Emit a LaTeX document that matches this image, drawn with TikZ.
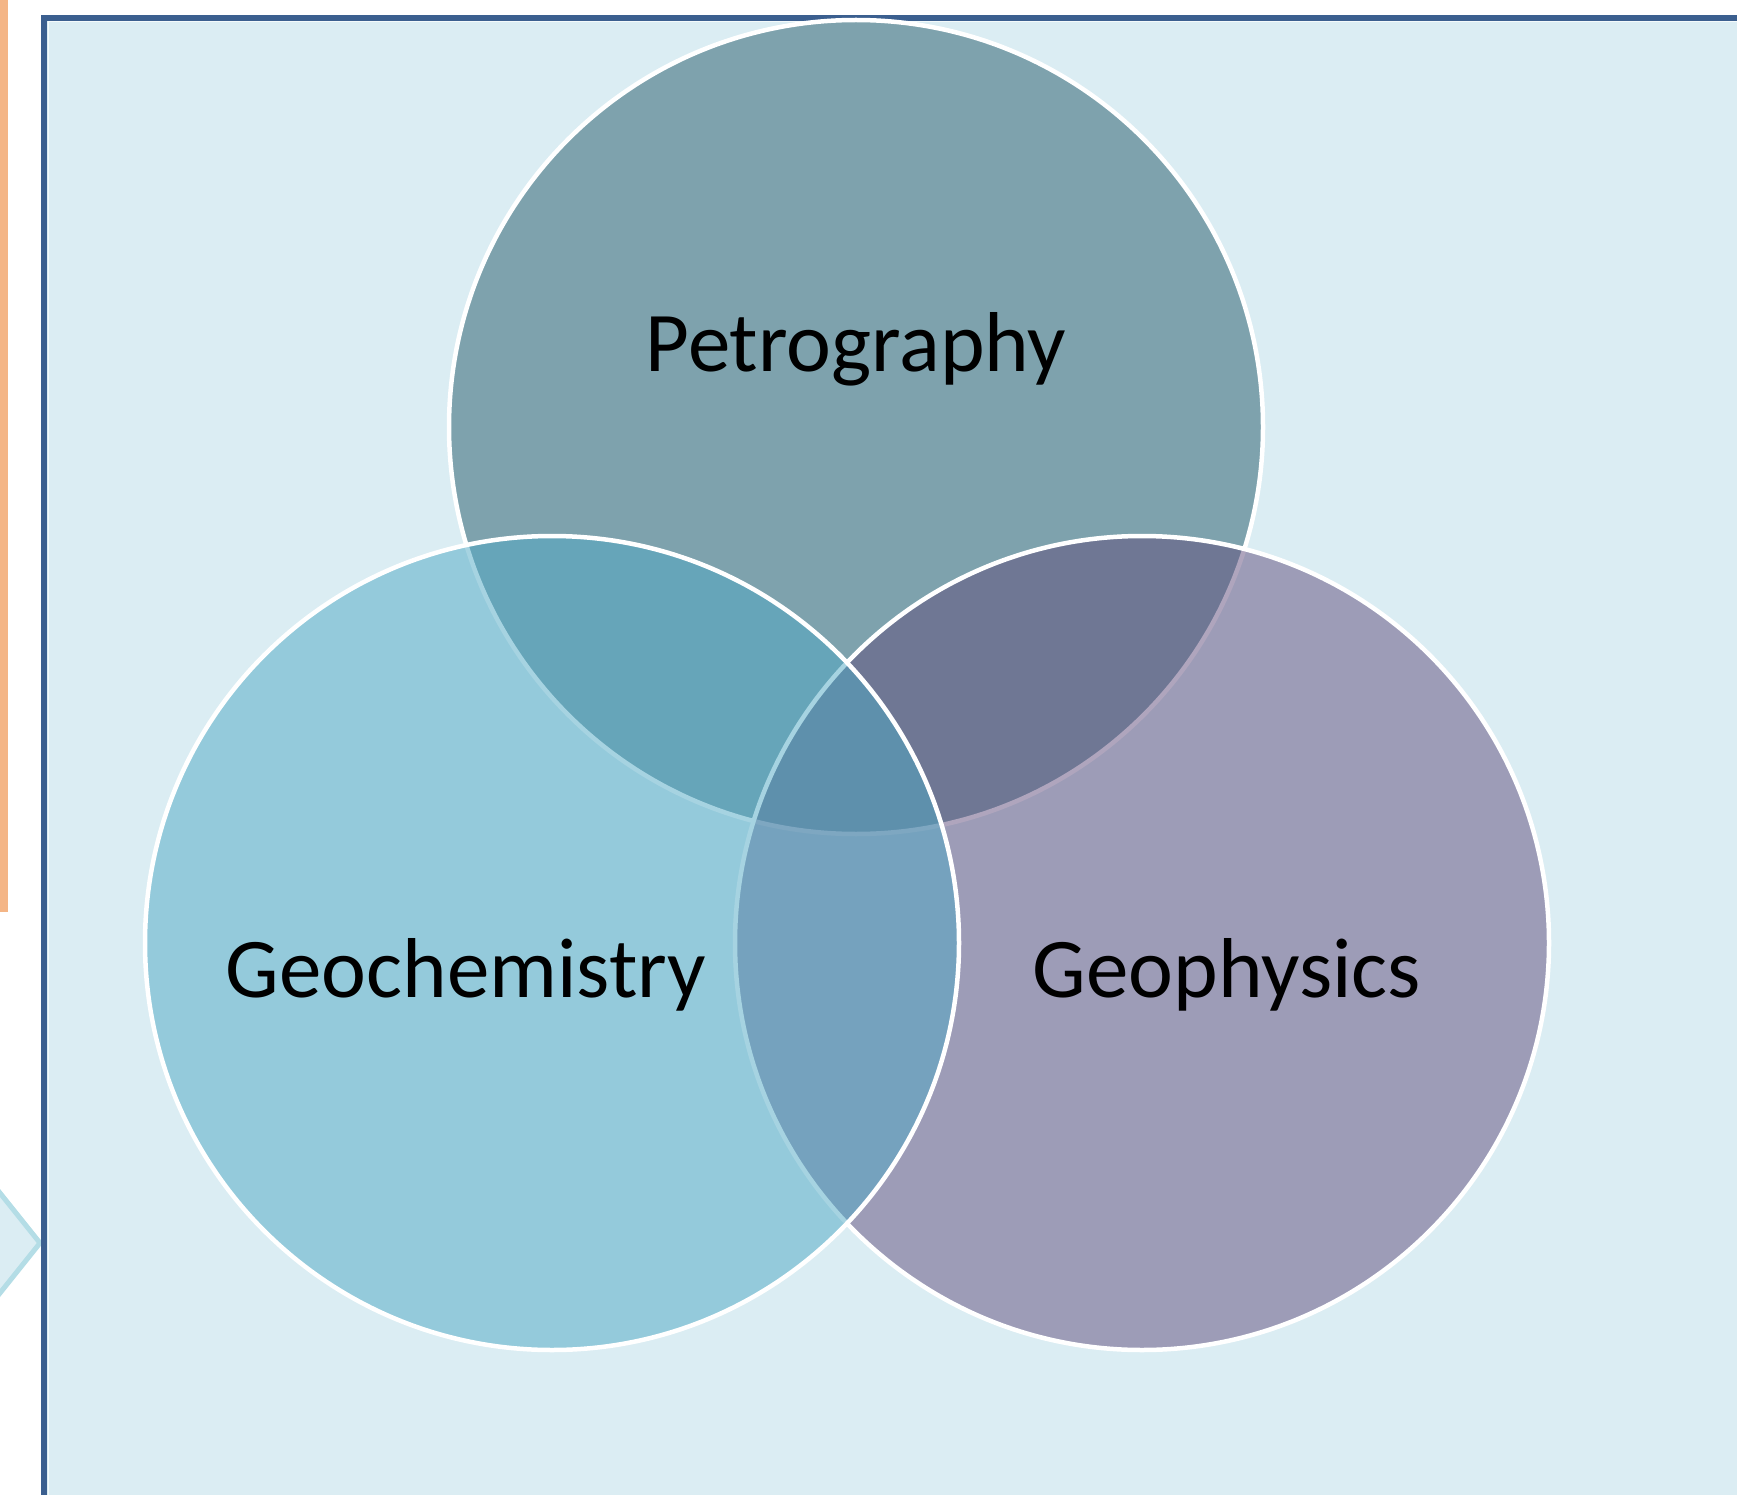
\documentclass[tikz,border=0pt]{standalone}
\usepackage{fontspec}
\setmainfont{Carlito}
\usetikzlibrary{shapes,positioning}

\definecolor{framefill}{RGB}{219,237,243}
\definecolor{frameline}{RGB}{59,95,143}
\definecolor{petrofill}{RGB}{35,89,105}
\definecolor{physfill}{RGB}{97,77,125}
\definecolor{chemfill}{RGB}{79,169,197}
\definecolor{peach}{RGB}{244,181,134}
\definecolor{chevline}{RGB}{180,221,230}

\begin{document}
\begin{tikzpicture}[x=1pt,y=-1pt]
\tikzstyle{venn}=[circle,draw=white,line width=4.5pt,minimum size=814pt,inner sep=0pt,fill opacity=0.5,draw opacity=1]
\tikzstyle{vlabel}=[anchor=base,inner sep=0pt,font=\fontsize{85}{100}\selectfont]
\useasboundingbox (0,0) rectangle (1737,1495);
\clip (0,0) rectangle (1737,1495);
\fill[white] (0,0) rectangle (1737,1495);
% neighbouring shapes, cut off at the edge
\draw[peach,line width=7pt,fill=peach!25] (-40,-20) rectangle (4,908);
\draw[chevline,line width=5pt,fill=framefill] (-20,1168) -- (40,1243) -- (-20,1318);
% frame
\draw[frameline,line width=5.5pt,fill=framefill] (44,18) rectangle (1780,1540);
\draw[white!70!framefill,line width=1pt] (48,22) -- (1780,22);
\draw[white!70!framefill,line width=1pt] (48,22) -- (48,1540);
% circles
\node[venn,fill=petrofill] (petro) at (856,427) {};
\node[venn,fill=physfill] (phys) at (1142,943) {};
\node[venn,fill=chemfill] (chem) at (552,943) {};
\node[vlabel] (petrolbl) at (856,372) {Petrography};
\node[vlabel] (chemlbl) at (466,997) {Geochemistry};
\node[vlabel] (physlbl) at (1227,997) {Geophysics};
\end{tikzpicture}
\end{document}
